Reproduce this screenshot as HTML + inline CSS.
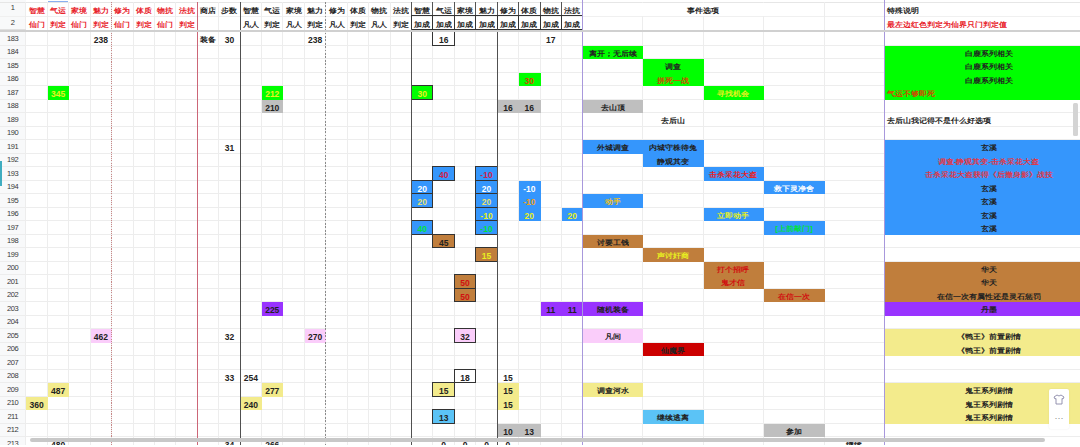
<!DOCTYPE html>
<html><head><meta charset="utf-8"><style>
html,body{margin:0;padding:0;background:#fff;width:1080px;height:447px;overflow:hidden;position:relative}
body div{position:absolute;box-sizing:border-box}
.cj{display:inline-block;transform:scaleY(0.88)}
.t{padding-top:1.5px;font-family:"Liberation Sans",sans-serif;font-size:8.5px;font-weight:bold;white-space:nowrap;overflow:visible;color:#222}
</style></head><body>
<div style="left:0.00px;top:0.00px;width:25.90px;height:447.00px;background:#f8f9fa"></div>
<div style="left:0.00px;top:31.00px;width:1080.00px;height:1.00px;background:#ededed"></div>
<div style="left:0.00px;top:45.00px;width:1080.00px;height:1.00px;background:#ededed"></div>
<div style="left:0.00px;top:58.00px;width:1080.00px;height:1.00px;background:#ededed"></div>
<div style="left:0.00px;top:72.00px;width:1080.00px;height:1.00px;background:#ededed"></div>
<div style="left:0.00px;top:85.00px;width:1080.00px;height:1.00px;background:#ededed"></div>
<div style="left:0.00px;top:99.00px;width:1080.00px;height:1.00px;background:#ededed"></div>
<div style="left:0.00px;top:112.00px;width:1080.00px;height:1.00px;background:#ededed"></div>
<div style="left:0.00px;top:126.00px;width:1080.00px;height:1.00px;background:#ededed"></div>
<div style="left:0.00px;top:139.00px;width:1080.00px;height:1.00px;background:#ededed"></div>
<div style="left:0.00px;top:153.00px;width:1080.00px;height:1.00px;background:#ededed"></div>
<div style="left:0.00px;top:166.00px;width:1080.00px;height:1.00px;background:#ededed"></div>
<div style="left:0.00px;top:180.00px;width:1080.00px;height:1.00px;background:#ededed"></div>
<div style="left:0.00px;top:193.00px;width:1080.00px;height:1.00px;background:#ededed"></div>
<div style="left:0.00px;top:207.00px;width:1080.00px;height:1.00px;background:#ededed"></div>
<div style="left:0.00px;top:220.00px;width:1080.00px;height:1.00px;background:#ededed"></div>
<div style="left:0.00px;top:234.00px;width:1080.00px;height:1.00px;background:#ededed"></div>
<div style="left:0.00px;top:247.00px;width:1080.00px;height:1.00px;background:#ededed"></div>
<div style="left:0.00px;top:261.00px;width:1080.00px;height:1.00px;background:#ededed"></div>
<div style="left:0.00px;top:274.00px;width:1080.00px;height:1.00px;background:#ededed"></div>
<div style="left:0.00px;top:288.00px;width:1080.00px;height:1.00px;background:#ededed"></div>
<div style="left:0.00px;top:301.00px;width:1080.00px;height:1.00px;background:#ededed"></div>
<div style="left:0.00px;top:315.00px;width:1080.00px;height:1.00px;background:#ededed"></div>
<div style="left:0.00px;top:328.00px;width:1080.00px;height:1.00px;background:#ededed"></div>
<div style="left:0.00px;top:342.00px;width:1080.00px;height:1.00px;background:#ededed"></div>
<div style="left:0.00px;top:355.00px;width:1080.00px;height:1.00px;background:#ededed"></div>
<div style="left:0.00px;top:369.00px;width:1080.00px;height:1.00px;background:#ededed"></div>
<div style="left:0.00px;top:382.00px;width:1080.00px;height:1.00px;background:#ededed"></div>
<div style="left:0.00px;top:396.00px;width:1080.00px;height:1.00px;background:#ededed"></div>
<div style="left:0.00px;top:409.00px;width:1080.00px;height:1.00px;background:#ededed"></div>
<div style="left:0.00px;top:423.00px;width:1080.00px;height:1.00px;background:#ededed"></div>
<div style="left:0.00px;top:436.00px;width:1080.00px;height:1.00px;background:#ededed"></div>
<div style="left:0.00px;top:450.00px;width:1080.00px;height:1.00px;background:#ededed"></div>
<div style="left:0.00px;top:16.00px;width:1080.00px;height:1.00px;background:#f0f0f0"></div>
<div style="left:0.00px;top:2.00px;width:1080.00px;height:1.00px;background:#e6e6e6"></div>
<div style="left:25.00px;top:2.00px;width:1.00px;height:447.00px;background:#ededed"></div>
<div style="left:47.00px;top:2.00px;width:1.00px;height:447.00px;background:#ededed"></div>
<div style="left:68.00px;top:2.00px;width:1.00px;height:447.00px;background:#ededed"></div>
<div style="left:90.00px;top:2.00px;width:1.00px;height:447.00px;background:#ededed"></div>
<div style="left:111.00px;top:2.00px;width:1.00px;height:447.00px;background:#ededed"></div>
<div style="left:133.00px;top:2.00px;width:1.00px;height:447.00px;background:#ededed"></div>
<div style="left:154.00px;top:2.00px;width:1.00px;height:447.00px;background:#ededed"></div>
<div style="left:175.00px;top:2.00px;width:1.00px;height:447.00px;background:#ededed"></div>
<div style="left:197.00px;top:2.00px;width:1.00px;height:447.00px;background:#ededed"></div>
<div style="left:218.00px;top:2.00px;width:1.00px;height:447.00px;background:#ededed"></div>
<div style="left:240.00px;top:2.00px;width:1.00px;height:447.00px;background:#ededed"></div>
<div style="left:261.00px;top:2.00px;width:1.00px;height:447.00px;background:#ededed"></div>
<div style="left:282.00px;top:2.00px;width:1.00px;height:447.00px;background:#ededed"></div>
<div style="left:304.00px;top:2.00px;width:1.00px;height:447.00px;background:#ededed"></div>
<div style="left:325.00px;top:2.00px;width:1.00px;height:447.00px;background:#ededed"></div>
<div style="left:347.00px;top:2.00px;width:1.00px;height:447.00px;background:#ededed"></div>
<div style="left:368.00px;top:2.00px;width:1.00px;height:447.00px;background:#ededed"></div>
<div style="left:390.00px;top:2.00px;width:1.00px;height:447.00px;background:#ededed"></div>
<div style="left:411.00px;top:2.00px;width:1.00px;height:447.00px;background:#ededed"></div>
<div style="left:432.00px;top:2.00px;width:1.00px;height:447.00px;background:#ededed"></div>
<div style="left:454.00px;top:2.00px;width:1.00px;height:447.00px;background:#ededed"></div>
<div style="left:475.00px;top:2.00px;width:1.00px;height:447.00px;background:#ededed"></div>
<div style="left:497.00px;top:2.00px;width:1.00px;height:447.00px;background:#ededed"></div>
<div style="left:518.00px;top:2.00px;width:1.00px;height:447.00px;background:#ededed"></div>
<div style="left:540.00px;top:2.00px;width:1.00px;height:447.00px;background:#ededed"></div>
<div style="left:561.00px;top:2.00px;width:1.00px;height:447.00px;background:#ededed"></div>
<div style="left:582.00px;top:2.00px;width:1.00px;height:447.00px;background:#ededed"></div>
<div style="left:642.00px;top:2.00px;width:1.00px;height:447.00px;background:#ededed"></div>
<div style="left:703.00px;top:2.00px;width:1.00px;height:447.00px;background:#ededed"></div>
<div style="left:763.00px;top:2.00px;width:1.00px;height:447.00px;background:#ededed"></div>
<div style="left:824.00px;top:2.00px;width:1.00px;height:447.00px;background:#ededed"></div>
<div style="left:583.00px;top:3.00px;width:239.60px;height:12.80px;background:#fff"></div>
<div class="t" style="left:25.90px;top:2.20px;width:21.42px;height:13.60px;line-height:13.60px;color:#e8222a;text-align:center;padding-top:1.5px;font-size:8.2px;"><span class="cj">智慧</span></div>
<div class="t" style="left:25.90px;top:15.80px;width:21.42px;height:13.60px;line-height:13.60px;color:#e8222a;text-align:center;padding-top:2.3px;font-size:8.2px;"><span class="cj">仙门</span></div>
<div class="t" style="left:47.32px;top:2.20px;width:21.42px;height:13.60px;line-height:13.60px;color:#e8222a;text-align:center;padding-top:1.5px;font-size:8.2px;"><span class="cj">气运</span></div>
<div class="t" style="left:47.32px;top:15.80px;width:21.42px;height:13.60px;line-height:13.60px;color:#e8222a;text-align:center;padding-top:2.3px;font-size:8.2px;"><span class="cj">判定</span></div>
<div class="t" style="left:68.75px;top:2.20px;width:21.42px;height:13.60px;line-height:13.60px;color:#e8222a;text-align:center;padding-top:1.5px;font-size:8.2px;"><span class="cj">家境</span></div>
<div class="t" style="left:68.75px;top:15.80px;width:21.42px;height:13.60px;line-height:13.60px;color:#e8222a;text-align:center;padding-top:2.3px;font-size:8.2px;"><span class="cj">仙门</span></div>
<div class="t" style="left:90.17px;top:2.20px;width:21.42px;height:13.60px;line-height:13.60px;color:#e8222a;text-align:center;padding-top:1.5px;font-size:8.2px;"><span class="cj">魅力</span></div>
<div class="t" style="left:90.17px;top:15.80px;width:21.42px;height:13.60px;line-height:13.60px;color:#e8222a;text-align:center;padding-top:2.3px;font-size:8.2px;"><span class="cj">判定</span></div>
<div class="t" style="left:111.60px;top:2.20px;width:21.42px;height:13.60px;line-height:13.60px;color:#e8222a;text-align:center;padding-top:1.5px;font-size:8.2px;"><span class="cj">修为</span></div>
<div class="t" style="left:111.60px;top:15.80px;width:21.42px;height:13.60px;line-height:13.60px;color:#e8222a;text-align:center;padding-top:2.3px;font-size:8.2px;"><span class="cj">仙门</span></div>
<div class="t" style="left:133.02px;top:2.20px;width:21.42px;height:13.60px;line-height:13.60px;color:#e8222a;text-align:center;padding-top:1.5px;font-size:8.2px;"><span class="cj">体质</span></div>
<div class="t" style="left:133.02px;top:15.80px;width:21.42px;height:13.60px;line-height:13.60px;color:#e8222a;text-align:center;padding-top:2.3px;font-size:8.2px;"><span class="cj">判定</span></div>
<div class="t" style="left:154.44px;top:2.20px;width:21.42px;height:13.60px;line-height:13.60px;color:#e8222a;text-align:center;padding-top:1.5px;font-size:8.2px;"><span class="cj">物抗</span></div>
<div class="t" style="left:154.44px;top:15.80px;width:21.42px;height:13.60px;line-height:13.60px;color:#e8222a;text-align:center;padding-top:2.3px;font-size:8.2px;"><span class="cj">仙门</span></div>
<div class="t" style="left:175.87px;top:2.20px;width:21.42px;height:13.60px;line-height:13.60px;color:#e8222a;text-align:center;padding-top:1.5px;font-size:8.2px;"><span class="cj">法抗</span></div>
<div class="t" style="left:175.87px;top:15.80px;width:21.42px;height:13.60px;line-height:13.60px;color:#e8222a;text-align:center;padding-top:2.3px;font-size:8.2px;"><span class="cj">判定</span></div>
<div class="t" style="left:197.29px;top:2.20px;width:21.42px;height:13.60px;line-height:13.60px;color:#222;text-align:center;padding-top:1.5px;font-size:8.2px;"><span class="cj">商店</span></div>
<div class="t" style="left:218.72px;top:2.20px;width:21.42px;height:13.60px;line-height:13.60px;color:#222;text-align:center;padding-top:1.5px;font-size:8.2px;"><span class="cj">步数</span></div>
<div class="t" style="left:240.14px;top:2.20px;width:21.42px;height:13.60px;line-height:13.60px;color:#222;text-align:center;padding-top:1.5px;font-size:8.2px;"><span class="cj">智慧</span></div>
<div class="t" style="left:240.14px;top:15.80px;width:21.42px;height:13.60px;line-height:13.60px;color:#222;text-align:center;padding-top:2.3px;font-size:8.2px;"><span class="cj">凡人</span></div>
<div class="t" style="left:261.56px;top:2.20px;width:21.42px;height:13.60px;line-height:13.60px;color:#222;text-align:center;padding-top:1.5px;font-size:8.2px;"><span class="cj">气运</span></div>
<div class="t" style="left:261.56px;top:15.80px;width:21.42px;height:13.60px;line-height:13.60px;color:#222;text-align:center;padding-top:2.3px;font-size:8.2px;"><span class="cj">判定</span></div>
<div class="t" style="left:282.99px;top:2.20px;width:21.42px;height:13.60px;line-height:13.60px;color:#222;text-align:center;padding-top:1.5px;font-size:8.2px;"><span class="cj">家境</span></div>
<div class="t" style="left:282.99px;top:15.80px;width:21.42px;height:13.60px;line-height:13.60px;color:#222;text-align:center;padding-top:2.3px;font-size:8.2px;"><span class="cj">凡人</span></div>
<div class="t" style="left:304.41px;top:2.20px;width:21.42px;height:13.60px;line-height:13.60px;color:#222;text-align:center;padding-top:1.5px;font-size:8.2px;"><span class="cj">魅力</span></div>
<div class="t" style="left:304.41px;top:15.80px;width:21.42px;height:13.60px;line-height:13.60px;color:#222;text-align:center;padding-top:2.3px;font-size:8.2px;"><span class="cj">判定</span></div>
<div class="t" style="left:325.84px;top:2.20px;width:21.42px;height:13.60px;line-height:13.60px;color:#222;text-align:center;padding-top:1.5px;font-size:8.2px;"><span class="cj">修为</span></div>
<div class="t" style="left:325.84px;top:15.80px;width:21.42px;height:13.60px;line-height:13.60px;color:#222;text-align:center;padding-top:2.3px;font-size:8.2px;"><span class="cj">凡人</span></div>
<div class="t" style="left:347.26px;top:2.20px;width:21.42px;height:13.60px;line-height:13.60px;color:#222;text-align:center;padding-top:1.5px;font-size:8.2px;"><span class="cj">体质</span></div>
<div class="t" style="left:347.26px;top:15.80px;width:21.42px;height:13.60px;line-height:13.60px;color:#222;text-align:center;padding-top:2.3px;font-size:8.2px;"><span class="cj">判定</span></div>
<div class="t" style="left:368.68px;top:2.20px;width:21.42px;height:13.60px;line-height:13.60px;color:#222;text-align:center;padding-top:1.5px;font-size:8.2px;"><span class="cj">物抗</span></div>
<div class="t" style="left:368.68px;top:15.80px;width:21.42px;height:13.60px;line-height:13.60px;color:#222;text-align:center;padding-top:2.3px;font-size:8.2px;"><span class="cj">凡人</span></div>
<div class="t" style="left:390.11px;top:2.20px;width:21.42px;height:13.60px;line-height:13.60px;color:#222;text-align:center;padding-top:1.5px;font-size:8.2px;"><span class="cj">法抗</span></div>
<div class="t" style="left:390.11px;top:15.80px;width:21.42px;height:13.60px;line-height:13.60px;color:#222;text-align:center;padding-top:2.3px;font-size:8.2px;"><span class="cj">判定</span></div>
<div style="left:411.00px;top:2.00px;width:22.00px;height:14.00px;border:1px solid #555;border-top:none;"></div>
<div class="t" style="left:411.53px;top:2.20px;width:21.42px;height:13.60px;line-height:13.60px;color:#222;text-align:center;padding-top:1.5px;font-size:8.2px;"><span class="cj">智慧</span></div>
<div style="left:411.00px;top:15.00px;width:22.00px;height:15.00px;box-shadow: inset 0 0 0 1px #333;"></div>
<div class="t" style="left:411.53px;top:15.80px;width:21.42px;height:13.60px;line-height:13.60px;color:#222;text-align:center;padding-top:2.3px;font-size:8.2px;"><span class="cj">加成</span></div>
<div style="left:432.00px;top:2.00px;width:23.00px;height:14.00px;border:1px solid #555;border-top:none;"></div>
<div class="t" style="left:432.96px;top:2.20px;width:21.42px;height:13.60px;line-height:13.60px;color:#222;text-align:center;padding-top:1.5px;font-size:8.2px;"><span class="cj">气运</span></div>
<div style="left:432.00px;top:15.00px;width:23.00px;height:15.00px;box-shadow: inset 0 0 0 1px #333;"></div>
<div class="t" style="left:432.96px;top:15.80px;width:21.42px;height:13.60px;line-height:13.60px;color:#222;text-align:center;padding-top:2.3px;font-size:8.2px;"><span class="cj">加成</span></div>
<div style="left:454.00px;top:2.00px;width:22.00px;height:14.00px;border:1px solid #555;border-top:none;"></div>
<div class="t" style="left:454.38px;top:2.20px;width:21.42px;height:13.60px;line-height:13.60px;color:#222;text-align:center;padding-top:1.5px;font-size:8.2px;"><span class="cj">家境</span></div>
<div style="left:454.00px;top:15.00px;width:22.00px;height:15.00px;box-shadow: inset 0 0 0 1px #333;"></div>
<div class="t" style="left:454.38px;top:15.80px;width:21.42px;height:13.60px;line-height:13.60px;color:#222;text-align:center;padding-top:2.3px;font-size:8.2px;"><span class="cj">加成</span></div>
<div style="left:475.00px;top:2.00px;width:23.00px;height:14.00px;border:1px solid #555;border-top:none;"></div>
<div class="t" style="left:475.80px;top:2.20px;width:21.42px;height:13.60px;line-height:13.60px;color:#222;text-align:center;padding-top:1.5px;font-size:8.2px;"><span class="cj">魅力</span></div>
<div style="left:475.00px;top:15.00px;width:23.00px;height:15.00px;box-shadow: inset 0 0 0 1px #333;"></div>
<div class="t" style="left:475.80px;top:15.80px;width:21.42px;height:13.60px;line-height:13.60px;color:#222;text-align:center;padding-top:2.3px;font-size:8.2px;"><span class="cj">加成</span></div>
<div style="left:497.00px;top:2.00px;width:22.00px;height:14.00px;border:1px solid #555;border-top:none;"></div>
<div class="t" style="left:497.23px;top:2.20px;width:21.42px;height:13.60px;line-height:13.60px;color:#222;text-align:center;padding-top:1.5px;font-size:8.2px;"><span class="cj">修为</span></div>
<div style="left:497.00px;top:15.00px;width:22.00px;height:15.00px;box-shadow: inset 0 0 0 1px #333;"></div>
<div class="t" style="left:497.23px;top:15.80px;width:21.42px;height:13.60px;line-height:13.60px;color:#222;text-align:center;padding-top:2.3px;font-size:8.2px;"><span class="cj">加成</span></div>
<div style="left:518.00px;top:2.00px;width:23.00px;height:14.00px;border:1px solid #555;border-top:none;"></div>
<div class="t" style="left:518.65px;top:2.20px;width:21.42px;height:13.60px;line-height:13.60px;color:#222;text-align:center;padding-top:1.5px;font-size:8.2px;"><span class="cj">体质</span></div>
<div style="left:518.00px;top:15.00px;width:23.00px;height:15.00px;box-shadow: inset 0 0 0 1px #333;"></div>
<div class="t" style="left:518.65px;top:15.80px;width:21.42px;height:13.60px;line-height:13.60px;color:#222;text-align:center;padding-top:2.3px;font-size:8.2px;"><span class="cj">加成</span></div>
<div style="left:540.00px;top:2.00px;width:22.00px;height:14.00px;border:1px solid #555;border-top:none;"></div>
<div class="t" style="left:540.08px;top:2.20px;width:21.42px;height:13.60px;line-height:13.60px;color:#222;text-align:center;padding-top:1.5px;font-size:8.2px;"><span class="cj">物抗</span></div>
<div style="left:540.00px;top:15.00px;width:22.00px;height:15.00px;box-shadow: inset 0 0 0 1px #333;"></div>
<div class="t" style="left:540.08px;top:15.80px;width:21.42px;height:13.60px;line-height:13.60px;color:#222;text-align:center;padding-top:2.3px;font-size:8.2px;"><span class="cj">加成</span></div>
<div style="left:561.00px;top:2.00px;width:22.00px;height:14.00px;border:1px solid #555;border-top:none;"></div>
<div class="t" style="left:561.50px;top:2.20px;width:21.42px;height:13.60px;line-height:13.60px;color:#222;text-align:center;padding-top:1.5px;font-size:8.2px;"><span class="cj">法抗</span></div>
<div style="left:561.00px;top:15.00px;width:22.00px;height:15.00px;box-shadow: inset 0 0 0 1px #333;"></div>
<div class="t" style="left:561.50px;top:15.80px;width:21.42px;height:13.60px;line-height:13.60px;color:#222;text-align:center;padding-top:2.3px;font-size:8.2px;"><span class="cj">加成</span></div>
<div class="t" style="left:582.50px;top:2.20px;width:241.60px;height:13.60px;line-height:13.60px;color:#222;text-align:center;padding-top:1.5px;font-size:8.2px;"><span class="cj">事件选项</span></div>
<div class="t" style="left:884.50px;top:2.20px;width:208.00px;height:13.60px;line-height:13.60px;color:#222;text-align:left;padding-left:2px;padding-top:1.5px;font-size:8.2px;"><span class="cj">特殊说明</span></div>
<div class="t" style="left:884.50px;top:15.80px;width:208.00px;height:13.60px;line-height:13.60px;color:#e8222a;text-align:left;padding-left:2px;padding-top:2.3px;font-size:8.2px;"><span class="cj">最左边红色判定为仙界只门判定值</span></div>
<div class="t" style="left:90.17px;top:31.74px;width:21.42px;height:13.50px;line-height:13.50px;color:#222;text-align:center;padding-top:2.3px;">238</div>
<div class="t" style="left:197.29px;top:31.74px;width:21.42px;height:13.50px;line-height:13.50px;color:#222;text-align:center;font-size:8.2px;"><span class="cj">装备</span></div>
<div class="t" style="left:218.72px;top:31.74px;width:21.42px;height:13.50px;line-height:13.50px;color:#222;text-align:center;padding-top:2.3px;">30</div>
<div class="t" style="left:304.41px;top:31.74px;width:21.42px;height:13.50px;line-height:13.50px;color:#222;text-align:center;padding-top:2.3px;">238</div>
<div style="left:432.00px;top:31.00px;width:23.00px;height:15.00px;box-shadow: inset 0 0 0 1px #333;"></div>
<div class="t" style="left:432.96px;top:31.74px;width:21.42px;height:13.50px;line-height:13.50px;color:#222;text-align:center;padding-top:2.3px;">16</div>
<div class="t" style="left:540.08px;top:31.74px;width:21.42px;height:13.50px;line-height:13.50px;color:#222;text-align:center;padding-top:2.3px;">17</div>
<div style="left:583.00px;top:46.00px;width:60.00px;height:13.00px;background:#00ff00;"></div>
<div class="t" style="left:582.50px;top:45.24px;width:60.40px;height:13.50px;line-height:13.50px;color:#222;text-align:center;font-size:8.2px;"><span class="cj">离开；无后续</span></div>
<div style="left:885.00px;top:46.00px;width:208.00px;height:13.00px;background:#00ff00;"></div>
<div class="t" style="left:884.50px;top:45.24px;width:208.00px;height:13.50px;line-height:13.50px;color:#222;text-align:center;font-size:8.2px;"><span class="cj">白鹿系列相关</span></div>
<div style="left:643.00px;top:59.00px;width:61.00px;height:14.00px;background:#00ff00;"></div>
<div class="t" style="left:642.90px;top:58.74px;width:60.40px;height:13.50px;line-height:13.50px;color:#222;text-align:center;font-size:8.2px;"><span class="cj">调查</span></div>
<div style="left:885.00px;top:59.00px;width:208.00px;height:14.00px;background:#00ff00;"></div>
<div class="t" style="left:884.50px;top:58.74px;width:208.00px;height:13.50px;line-height:13.50px;color:#222;text-align:center;font-size:8.2px;"><span class="cj">白鹿系列相关</span></div>
<div style="left:519.00px;top:73.00px;width:22.00px;height:13.00px;background:#00ff00;"></div>
<div class="t" style="left:518.65px;top:72.24px;width:21.42px;height:13.50px;line-height:13.50px;color:#d04800;text-align:center;padding-top:2.3px;">30</div>
<div style="left:643.00px;top:73.00px;width:61.00px;height:13.00px;background:#00ff00;"></div>
<div class="t" style="left:642.90px;top:72.24px;width:60.40px;height:13.50px;line-height:13.50px;color:#d04800;text-align:center;font-size:8.2px;"><span class="cj">拼死一战</span></div>
<div style="left:885.00px;top:73.00px;width:208.00px;height:13.00px;background:#00ff00;"></div>
<div class="t" style="left:884.50px;top:72.24px;width:208.00px;height:13.50px;line-height:13.50px;color:#222;text-align:center;font-size:8.2px;"><span class="cj">白鹿系列相关</span></div>
<div style="left:48.00px;top:86.00px;width:21.00px;height:14.00px;background:#00ff00;"></div>
<div class="t" style="left:47.32px;top:85.74px;width:21.42px;height:13.50px;line-height:13.50px;color:#e8f020;text-align:center;padding-top:2.3px;">345</div>
<div style="left:262.00px;top:86.00px;width:21.00px;height:14.00px;background:#00ff00;"></div>
<div class="t" style="left:261.56px;top:85.74px;width:21.42px;height:13.50px;line-height:13.50px;color:#e8f020;text-align:center;padding-top:2.3px;">212</div>
<div style="left:411.00px;top:85.00px;width:22.00px;height:15.00px;background:#00ff00;box-shadow: inset 0 0 0 1px #333;"></div>
<div class="t" style="left:411.53px;top:85.74px;width:21.42px;height:13.50px;line-height:13.50px;color:#e8f020;text-align:center;padding-top:2.3px;">30</div>
<div style="left:704.00px;top:86.00px;width:60.00px;height:14.00px;background:#00ff00;"></div>
<div class="t" style="left:703.30px;top:85.74px;width:60.40px;height:13.50px;line-height:13.50px;color:#e8f020;text-align:center;font-size:8.2px;"><span class="cj">寻找机会</span></div>
<div style="left:885.00px;top:86.00px;width:208.00px;height:14.00px;background:#00ff00;"></div>
<div class="t" style="left:884.50px;top:85.74px;width:208.00px;height:13.50px;line-height:13.50px;color:#d04800;text-align:left;padding-left:2px;font-size:8.2px;"><span class="cj">气运不够即死</span></div>
<div style="left:262.00px;top:100.00px;width:21.00px;height:13.00px;background:#bfbfbf;"></div>
<div class="t" style="left:261.56px;top:99.24px;width:21.42px;height:13.50px;line-height:13.50px;color:#222;text-align:center;padding-top:2.3px;">210</div>
<div style="left:498.00px;top:100.00px;width:21.00px;height:13.00px;background:#bfbfbf;"></div>
<div class="t" style="left:497.23px;top:99.24px;width:21.42px;height:13.50px;line-height:13.50px;color:#222;text-align:center;padding-top:2.3px;">16</div>
<div style="left:519.00px;top:100.00px;width:22.00px;height:13.00px;background:#bfbfbf;"></div>
<div class="t" style="left:518.65px;top:99.24px;width:21.42px;height:13.50px;line-height:13.50px;color:#222;text-align:center;padding-top:2.3px;">16</div>
<div style="left:583.00px;top:100.00px;width:60.00px;height:13.00px;background:#bfbfbf;"></div>
<div class="t" style="left:582.50px;top:99.24px;width:60.40px;height:13.50px;line-height:13.50px;color:#222;text-align:center;font-size:8.2px;"><span class="cj">去山顶</span></div>
<div class="t" style="left:642.90px;top:112.74px;width:60.40px;height:13.50px;line-height:13.50px;color:#222;text-align:center;font-size:8.2px;"><span class="cj">去后山</span></div>
<div class="t" style="left:884.50px;top:112.74px;width:208.00px;height:13.50px;line-height:13.50px;color:#222;text-align:left;padding-left:2px;font-size:8.2px;"><span class="cj">去后山我记得不是什么好选项</span></div>
<div class="t" style="left:218.72px;top:139.74px;width:21.42px;height:13.50px;line-height:13.50px;color:#222;text-align:center;padding-top:2.3px;">31</div>
<div style="left:583.00px;top:140.00px;width:60.00px;height:14.00px;background:#3596fc;"></div>
<div class="t" style="left:582.50px;top:139.74px;width:60.40px;height:13.50px;line-height:13.50px;color:#222;text-align:center;font-size:8.2px;"><span class="cj">外城调查</span></div>
<div style="left:643.00px;top:140.00px;width:61.00px;height:14.00px;background:#3596fc;"></div>
<div class="t" style="left:642.90px;top:139.74px;width:60.40px;height:13.50px;line-height:13.50px;color:#222;text-align:center;font-size:8.2px;"><span class="cj">内城守株待兔</span></div>
<div style="left:885.00px;top:140.00px;width:208.00px;height:14.00px;background:#3596fc;"></div>
<div class="t" style="left:884.50px;top:139.74px;width:208.00px;height:13.50px;line-height:13.50px;color:#222;text-align:center;font-size:8.2px;"><span class="cj">玄溪</span></div>
<div style="left:643.00px;top:154.00px;width:61.00px;height:13.00px;background:#3596fc;"></div>
<div class="t" style="left:642.90px;top:153.24px;width:60.40px;height:13.50px;line-height:13.50px;color:#222;text-align:center;font-size:8.2px;"><span class="cj">静观其变</span></div>
<div style="left:885.00px;top:154.00px;width:208.00px;height:13.00px;background:#3596fc;"></div>
<div class="t" style="left:884.50px;top:153.24px;width:208.00px;height:13.50px;line-height:13.50px;color:#e03848;text-align:center;font-size:7.8px;"><span class="cj">调查-静观其变-击杀采花大盗</span></div>
<div style="left:432.00px;top:166.00px;width:23.00px;height:15.00px;background:#3596fc;box-shadow: inset 0 0 0 1px #333;"></div>
<div class="t" style="left:432.96px;top:166.74px;width:21.42px;height:13.50px;line-height:13.50px;color:#d0204a;text-align:center;padding-top:2.3px;">40</div>
<div style="left:475.00px;top:166.00px;width:23.00px;height:15.00px;background:#3596fc;box-shadow: inset 0 0 0 1px #333;"></div>
<div class="t" style="left:475.80px;top:166.74px;width:21.42px;height:13.50px;line-height:13.50px;color:#d0204a;text-align:center;padding-top:2.3px;">-10</div>
<div style="left:704.00px;top:167.00px;width:60.00px;height:14.00px;background:#3596fc;"></div>
<div class="t" style="left:703.30px;top:166.74px;width:60.40px;height:13.50px;line-height:13.50px;color:#e8222a;text-align:center;font-size:8.2px;"><span class="cj">击杀采花大盗</span></div>
<div style="left:885.00px;top:167.00px;width:208.00px;height:14.00px;background:#3596fc;"></div>
<div class="t" style="left:884.50px;top:166.74px;width:208.00px;height:13.50px;line-height:13.50px;color:#e03848;text-align:center;font-size:7.6px;"><span class="cj">击杀采花大盗获得《后撤身影》战技</span></div>
<div style="left:411.00px;top:180.00px;width:22.00px;height:14.00px;background:#3596fc;box-shadow: inset 0 0 0 1px #333;"></div>
<div class="t" style="left:411.53px;top:180.24px;width:21.42px;height:13.50px;line-height:13.50px;color:#ffffff;text-align:center;padding-top:2.3px;">20</div>
<div style="left:475.00px;top:180.00px;width:23.00px;height:14.00px;background:#3596fc;box-shadow: inset 0 0 0 1px #333;"></div>
<div class="t" style="left:475.80px;top:180.24px;width:21.42px;height:13.50px;line-height:13.50px;color:#ffffff;text-align:center;padding-top:2.3px;">20</div>
<div style="left:519.00px;top:181.00px;width:22.00px;height:13.00px;background:#3596fc;"></div>
<div class="t" style="left:518.65px;top:180.24px;width:21.42px;height:13.50px;line-height:13.50px;color:#ffffff;text-align:center;padding-top:2.3px;">-10</div>
<div style="left:764.00px;top:181.00px;width:61.00px;height:13.00px;background:#3596fc;"></div>
<div class="t" style="left:763.70px;top:180.24px;width:60.40px;height:13.50px;line-height:13.50px;color:#ffffff;text-align:center;font-size:8.2px;"><span class="cj">救下灵净舍</span></div>
<div style="left:885.00px;top:181.00px;width:208.00px;height:13.00px;background:#3596fc;"></div>
<div class="t" style="left:884.50px;top:180.24px;width:208.00px;height:13.50px;line-height:13.50px;color:#222;text-align:center;font-size:8.2px;"><span class="cj">玄溪</span></div>
<div style="left:411.00px;top:193.00px;width:22.00px;height:15.00px;background:#3596fc;box-shadow: inset 0 0 0 1px #333;"></div>
<div class="t" style="left:411.53px;top:193.74px;width:21.42px;height:13.50px;line-height:13.50px;color:#e8e070;text-align:center;padding-top:2.3px;">20</div>
<div style="left:475.00px;top:193.00px;width:23.00px;height:15.00px;background:#3596fc;box-shadow: inset 0 0 0 1px #333;"></div>
<div class="t" style="left:475.80px;top:193.74px;width:21.42px;height:13.50px;line-height:13.50px;color:#e8e070;text-align:center;padding-top:2.3px;">20</div>
<div style="left:519.00px;top:194.00px;width:22.00px;height:14.00px;background:#3596fc;"></div>
<div class="t" style="left:518.65px;top:193.74px;width:21.42px;height:13.50px;line-height:13.50px;color:#f0a020;text-align:center;padding-top:2.3px;">-10</div>
<div style="left:583.00px;top:194.00px;width:60.00px;height:14.00px;background:#3596fc;"></div>
<div class="t" style="left:582.50px;top:193.74px;width:60.40px;height:13.50px;line-height:13.50px;color:#f0c020;text-align:center;font-size:8.2px;"><span class="cj">动手</span></div>
<div style="left:885.00px;top:194.00px;width:208.00px;height:14.00px;background:#3596fc;"></div>
<div class="t" style="left:884.50px;top:193.74px;width:208.00px;height:13.50px;line-height:13.50px;color:#222;text-align:center;font-size:8.2px;"><span class="cj">玄溪</span></div>
<div style="left:475.00px;top:207.00px;width:23.00px;height:14.00px;background:#3596fc;box-shadow: inset 0 0 0 1px #333;"></div>
<div class="t" style="left:475.80px;top:207.24px;width:21.42px;height:13.50px;line-height:13.50px;color:#e8f020;text-align:center;padding-top:2.3px;">-10</div>
<div style="left:519.00px;top:208.00px;width:22.00px;height:13.00px;background:#3596fc;"></div>
<div class="t" style="left:518.65px;top:207.24px;width:21.42px;height:13.50px;line-height:13.50px;color:#e8f020;text-align:center;padding-top:2.3px;">20</div>
<div style="left:562.00px;top:208.00px;width:21.00px;height:13.00px;background:#3596fc;"></div>
<div class="t" style="left:561.50px;top:207.24px;width:21.42px;height:13.50px;line-height:13.50px;color:#e8f020;text-align:center;padding-top:2.3px;">20</div>
<div style="left:704.00px;top:208.00px;width:60.00px;height:13.00px;background:#3596fc;"></div>
<div class="t" style="left:703.30px;top:207.24px;width:60.40px;height:13.50px;line-height:13.50px;color:#e8f020;text-align:center;font-size:8.2px;"><span class="cj">立即动手</span></div>
<div style="left:885.00px;top:208.00px;width:208.00px;height:13.00px;background:#3596fc;"></div>
<div class="t" style="left:884.50px;top:207.24px;width:208.00px;height:13.50px;line-height:13.50px;color:#222;text-align:center;font-size:8.2px;"><span class="cj">玄溪</span></div>
<div style="left:411.00px;top:220.00px;width:22.00px;height:15.00px;background:#3596fc;box-shadow: inset 0 0 0 1px #333;"></div>
<div class="t" style="left:411.53px;top:220.74px;width:21.42px;height:13.50px;line-height:13.50px;color:#00e040;text-align:center;padding-top:2.3px;">40</div>
<div style="left:475.00px;top:220.00px;width:23.00px;height:15.00px;background:#3596fc;box-shadow: inset 0 0 0 1px #333;"></div>
<div class="t" style="left:475.80px;top:220.74px;width:21.42px;height:13.50px;line-height:13.50px;color:#00e040;text-align:center;padding-top:2.3px;">-10</div>
<div style="left:764.00px;top:221.00px;width:61.00px;height:14.00px;background:#3596fc;"></div>
<div class="t" style="left:763.70px;top:220.74px;width:60.40px;height:13.50px;line-height:13.50px;color:#00e040;text-align:center;font-size:8.2px;"><span class="cj">[上前敲门]</span></div>
<div style="left:885.00px;top:221.00px;width:208.00px;height:14.00px;background:#3596fc;"></div>
<div class="t" style="left:884.50px;top:220.74px;width:208.00px;height:13.50px;line-height:13.50px;color:#222;text-align:center;font-size:8.2px;"><span class="cj">玄溪</span></div>
<div style="left:432.00px;top:234.00px;width:23.00px;height:14.00px;background:#c07e3c;box-shadow: inset 0 0 0 1px #333;"></div>
<div class="t" style="left:432.96px;top:234.24px;width:21.42px;height:13.50px;line-height:13.50px;color:#222;text-align:center;padding-top:2.3px;">45</div>
<div style="left:583.00px;top:235.00px;width:60.00px;height:13.00px;background:#c07e3c;"></div>
<div class="t" style="left:582.50px;top:234.24px;width:60.40px;height:13.50px;line-height:13.50px;color:#222;text-align:center;font-size:8.2px;"><span class="cj">讨要工钱</span></div>
<div style="left:475.00px;top:247.00px;width:23.00px;height:15.00px;background:#c07e3c;box-shadow: inset 0 0 0 1px #333;"></div>
<div class="t" style="left:475.80px;top:247.74px;width:21.42px;height:13.50px;line-height:13.50px;color:#e8f020;text-align:center;padding-top:2.3px;">15</div>
<div style="left:643.00px;top:248.00px;width:61.00px;height:14.00px;background:#c07e3c;"></div>
<div class="t" style="left:642.90px;top:247.74px;width:60.40px;height:13.50px;line-height:13.50px;color:#e8f020;text-align:center;font-size:8.2px;"><span class="cj">声讨奸商</span></div>
<div style="left:704.00px;top:262.00px;width:60.00px;height:13.00px;background:#c07e3c;"></div>
<div class="t" style="left:703.30px;top:261.24px;width:60.40px;height:13.50px;line-height:13.50px;color:#d01010;text-align:center;font-size:8.2px;"><span class="cj">打个招呼</span></div>
<div style="left:885.00px;top:262.00px;width:208.00px;height:13.00px;background:#c07e3c;"></div>
<div class="t" style="left:884.50px;top:261.24px;width:208.00px;height:13.50px;line-height:13.50px;color:#222;text-align:center;font-size:8.2px;"><span class="cj">华天</span></div>
<div style="left:454.00px;top:274.00px;width:22.00px;height:15.00px;background:#c07e3c;box-shadow: inset 0 0 0 1px #333;"></div>
<div class="t" style="left:454.38px;top:274.74px;width:21.42px;height:13.50px;line-height:13.50px;color:#d01010;text-align:center;padding-top:2.3px;">50</div>
<div style="left:704.00px;top:275.00px;width:60.00px;height:14.00px;background:#c07e3c;"></div>
<div class="t" style="left:703.30px;top:274.74px;width:60.40px;height:13.50px;line-height:13.50px;color:#d01010;text-align:center;font-size:8.2px;"><span class="cj">鬼才信</span></div>
<div style="left:885.00px;top:275.00px;width:208.00px;height:14.00px;background:#c07e3c;"></div>
<div class="t" style="left:884.50px;top:274.74px;width:208.00px;height:13.50px;line-height:13.50px;color:#222;text-align:center;font-size:8.2px;"><span class="cj">华天</span></div>
<div style="left:454.00px;top:288.00px;width:22.00px;height:14.00px;background:#c07e3c;box-shadow: inset 0 0 0 1px #333;"></div>
<div class="t" style="left:454.38px;top:288.24px;width:21.42px;height:13.50px;line-height:13.50px;color:#d01010;text-align:center;padding-top:2.3px;">50</div>
<div style="left:764.00px;top:289.00px;width:61.00px;height:13.00px;background:#c07e3c;"></div>
<div class="t" style="left:763.70px;top:288.24px;width:60.40px;height:13.50px;line-height:13.50px;color:#d01010;text-align:center;font-size:8.2px;"><span class="cj">在信一次</span></div>
<div style="left:885.00px;top:289.00px;width:208.00px;height:13.00px;background:#c07e3c;"></div>
<div class="t" style="left:884.50px;top:288.24px;width:208.00px;height:13.50px;line-height:13.50px;color:#222;text-align:center;font-size:8.2px;"><span class="cj">在信一次有属性还是灵石惩罚</span></div>
<div style="left:262.00px;top:302.00px;width:21.00px;height:14.00px;background:#9933ff;"></div>
<div class="t" style="left:261.56px;top:301.74px;width:21.42px;height:13.50px;line-height:13.50px;color:#222;text-align:center;padding-top:2.3px;">225</div>
<div style="left:541.00px;top:302.00px;width:21.00px;height:14.00px;background:#9933ff;"></div>
<div class="t" style="left:540.08px;top:301.74px;width:21.42px;height:13.50px;line-height:13.50px;color:#222;text-align:center;padding-top:2.3px;">11</div>
<div style="left:562.00px;top:302.00px;width:21.00px;height:14.00px;background:#9933ff;"></div>
<div class="t" style="left:561.50px;top:301.74px;width:21.42px;height:13.50px;line-height:13.50px;color:#222;text-align:center;padding-top:2.3px;">11</div>
<div style="left:583.00px;top:302.00px;width:60.00px;height:14.00px;background:#9933ff;"></div>
<div class="t" style="left:582.50px;top:301.74px;width:60.40px;height:13.50px;line-height:13.50px;color:#222;text-align:center;font-size:8.2px;"><span class="cj">随机装备</span></div>
<div style="left:885.00px;top:302.00px;width:208.00px;height:14.00px;background:#9933ff;"></div>
<div class="t" style="left:884.50px;top:301.74px;width:208.00px;height:13.50px;line-height:13.50px;color:#222;text-align:center;font-size:8.2px;"><span class="cj">丹墨</span></div>
<div style="left:91.00px;top:329.00px;width:21.00px;height:14.00px;background:#facdfa;"></div>
<div class="t" style="left:90.17px;top:328.74px;width:21.42px;height:13.50px;line-height:13.50px;color:#222;text-align:center;padding-top:2.3px;">462</div>
<div class="t" style="left:218.72px;top:328.74px;width:21.42px;height:13.50px;line-height:13.50px;color:#222;text-align:center;padding-top:2.3px;">32</div>
<div style="left:305.00px;top:329.00px;width:21.00px;height:14.00px;background:#facdfa;"></div>
<div class="t" style="left:304.41px;top:328.74px;width:21.42px;height:13.50px;line-height:13.50px;color:#222;text-align:center;padding-top:2.3px;">270</div>
<div style="left:454.00px;top:328.00px;width:22.00px;height:15.00px;background:#facdfa;box-shadow: inset 0 0 0 1px #333;"></div>
<div class="t" style="left:454.38px;top:328.74px;width:21.42px;height:13.50px;line-height:13.50px;color:#222;text-align:center;padding-top:2.3px;">32</div>
<div style="left:583.00px;top:329.00px;width:60.00px;height:14.00px;background:#facdfa;"></div>
<div class="t" style="left:582.50px;top:328.74px;width:60.40px;height:13.50px;line-height:13.50px;color:#222;text-align:center;font-size:8.2px;"><span class="cj">凡间</span></div>
<div style="left:885.00px;top:329.00px;width:208.00px;height:14.00px;background:#f3eb8c;"></div>
<div class="t" style="left:884.50px;top:328.74px;width:208.00px;height:13.50px;line-height:13.50px;color:#222;text-align:center;font-size:8.2px;"><span class="cj">《鸭王》前置剧情</span></div>
<div style="left:643.00px;top:343.00px;width:61.00px;height:13.00px;background:#cc0000;"></div>
<div class="t" style="left:642.90px;top:342.24px;width:60.40px;height:13.50px;line-height:13.50px;color:#222;text-align:center;font-size:8.2px;"><span class="cj">仙魔界</span></div>
<div style="left:885.00px;top:343.00px;width:208.00px;height:13.00px;background:#f3eb8c;"></div>
<div class="t" style="left:884.50px;top:342.24px;width:208.00px;height:13.50px;line-height:13.50px;color:#222;text-align:center;font-size:8.2px;"><span class="cj">《鸭王》前置剧情</span></div>
<div class="t" style="left:218.72px;top:369.24px;width:21.42px;height:13.50px;line-height:13.50px;color:#222;text-align:center;padding-top:2.3px;">33</div>
<div class="t" style="left:240.14px;top:369.24px;width:21.42px;height:13.50px;line-height:13.50px;color:#222;text-align:center;padding-top:2.3px;">254</div>
<div style="left:454.00px;top:369.00px;width:22.00px;height:14.00px;box-shadow: inset 0 0 0 1px #333;"></div>
<div class="t" style="left:454.38px;top:369.24px;width:21.42px;height:13.50px;line-height:13.50px;color:#222;text-align:center;padding-top:2.3px;">18</div>
<div class="t" style="left:497.23px;top:369.24px;width:21.42px;height:13.50px;line-height:13.50px;color:#222;text-align:center;padding-top:2.3px;">15</div>
<div style="left:48.00px;top:383.00px;width:21.00px;height:14.00px;background:#f3eb8c;"></div>
<div class="t" style="left:47.32px;top:382.74px;width:21.42px;height:13.50px;line-height:13.50px;color:#222;text-align:center;padding-top:2.3px;">487</div>
<div style="left:262.00px;top:383.00px;width:21.00px;height:14.00px;background:#f3eb8c;"></div>
<div class="t" style="left:261.56px;top:382.74px;width:21.42px;height:13.50px;line-height:13.50px;color:#222;text-align:center;padding-top:2.3px;">277</div>
<div style="left:432.00px;top:382.00px;width:23.00px;height:15.00px;background:#f3eb8c;box-shadow: inset 0 0 0 1px #333;"></div>
<div class="t" style="left:432.96px;top:382.74px;width:21.42px;height:13.50px;line-height:13.50px;color:#222;text-align:center;padding-top:2.3px;">15</div>
<div style="left:498.00px;top:383.00px;width:21.00px;height:14.00px;background:#f3eb8c;"></div>
<div class="t" style="left:497.23px;top:382.74px;width:21.42px;height:13.50px;line-height:13.50px;color:#222;text-align:center;padding-top:2.3px;">15</div>
<div style="left:583.00px;top:383.00px;width:60.00px;height:14.00px;background:#f3eb8c;"></div>
<div class="t" style="left:582.50px;top:382.74px;width:60.40px;height:13.50px;line-height:13.50px;color:#222;text-align:center;font-size:8.2px;"><span class="cj">调查河水</span></div>
<div style="left:885.00px;top:383.00px;width:208.00px;height:14.00px;background:#f3eb8c;"></div>
<div class="t" style="left:884.50px;top:382.74px;width:208.00px;height:13.50px;line-height:13.50px;color:#222;text-align:center;font-size:8.2px;"><span class="cj">鬼王系列剧情</span></div>
<div style="left:26.00px;top:397.00px;width:22.00px;height:13.00px;background:#f3eb8c;"></div>
<div class="t" style="left:25.90px;top:396.24px;width:21.42px;height:13.50px;line-height:13.50px;color:#222;text-align:center;padding-top:2.3px;">360</div>
<div style="left:241.00px;top:397.00px;width:21.00px;height:13.00px;background:#f3eb8c;"></div>
<div class="t" style="left:240.14px;top:396.24px;width:21.42px;height:13.50px;line-height:13.50px;color:#222;text-align:center;padding-top:2.3px;">240</div>
<div style="left:498.00px;top:397.00px;width:21.00px;height:13.00px;background:#f3eb8c;"></div>
<div class="t" style="left:497.23px;top:396.24px;width:21.42px;height:13.50px;line-height:13.50px;color:#222;text-align:center;padding-top:2.3px;">15</div>
<div style="left:885.00px;top:397.00px;width:208.00px;height:13.00px;background:#f3eb8c;"></div>
<div class="t" style="left:884.50px;top:396.24px;width:208.00px;height:13.50px;line-height:13.50px;color:#222;text-align:center;font-size:8.2px;"><span class="cj">鬼王系列剧情</span></div>
<div style="left:432.00px;top:409.00px;width:23.00px;height:15.00px;background:#5bc3f6;box-shadow: inset 0 0 0 1px #333;"></div>
<div class="t" style="left:432.96px;top:409.74px;width:21.42px;height:13.50px;line-height:13.50px;color:#222;text-align:center;padding-top:2.3px;">13</div>
<div style="left:643.00px;top:410.00px;width:61.00px;height:14.00px;background:#5bc3f6;"></div>
<div class="t" style="left:642.90px;top:409.74px;width:60.40px;height:13.50px;line-height:13.50px;color:#222;text-align:center;font-size:8.2px;"><span class="cj">继续逃离</span></div>
<div style="left:885.00px;top:410.00px;width:208.00px;height:14.00px;background:#f3eb8c;"></div>
<div class="t" style="left:884.50px;top:409.74px;width:208.00px;height:13.50px;line-height:13.50px;color:#222;text-align:center;font-size:8.2px;"><span class="cj">鬼王系列剧情</span></div>
<div style="left:498.00px;top:424.00px;width:21.00px;height:13.00px;background:#bfbfbf;"></div>
<div class="t" style="left:497.23px;top:423.24px;width:21.42px;height:13.50px;line-height:13.50px;color:#222;text-align:center;padding-top:2.3px;">10</div>
<div style="left:519.00px;top:424.00px;width:22.00px;height:13.00px;background:#bfbfbf;"></div>
<div class="t" style="left:518.65px;top:423.24px;width:21.42px;height:13.50px;line-height:13.50px;color:#222;text-align:center;padding-top:2.3px;">13</div>
<div style="left:764.00px;top:424.00px;width:61.00px;height:13.00px;background:#bfbfbf;"></div>
<div class="t" style="left:763.70px;top:423.24px;width:60.40px;height:13.50px;line-height:13.50px;color:#222;text-align:center;font-size:8.2px;"><span class="cj">参加</span></div>
<div class="t" style="left:47.32px;top:436.74px;width:21.42px;height:13.50px;line-height:13.50px;color:#222;text-align:center;padding-top:2.3px;">480</div>
<div class="t" style="left:218.72px;top:436.74px;width:21.42px;height:13.50px;line-height:13.50px;color:#222;text-align:center;padding-top:2.3px;">34</div>
<div class="t" style="left:261.56px;top:436.74px;width:21.42px;height:13.50px;line-height:13.50px;color:#222;text-align:center;padding-top:2.3px;">266</div>
<div class="t" style="left:432.96px;top:436.74px;width:21.42px;height:13.50px;line-height:13.50px;color:#222;text-align:center;padding-top:2.3px;">0</div>
<div class="t" style="left:454.38px;top:436.74px;width:21.42px;height:13.50px;line-height:13.50px;color:#222;text-align:center;padding-top:2.3px;">0</div>
<div class="t" style="left:475.80px;top:436.74px;width:21.42px;height:13.50px;line-height:13.50px;color:#222;text-align:center;padding-top:2.3px;">0</div>
<div class="t" style="left:497.23px;top:436.74px;width:21.42px;height:13.50px;line-height:13.50px;color:#222;text-align:center;padding-top:2.3px;">0</div>
<div class="t" style="left:824.10px;top:436.74px;width:60.40px;height:13.50px;line-height:13.50px;color:#222;text-align:center;font-size:8.2px;"><span class="cj">继续</span></div>
<div style="left:111px;top:2px;width:1px;height:445px;background:repeating-linear-gradient(to bottom,#c88888 0 1.1px,transparent 1.1px 2.2px)"></div>
<div style="left:197.00px;top:2.00px;width:1.00px;height:445.00px;background:#cc6677"></div>
<div style="left:240.00px;top:2.00px;width:1.00px;height:445.00px;background:#505050"></div>
<div style="left:325px;top:2px;width:1px;height:445px;background:repeating-linear-gradient(to bottom,#8a8a8a 0 1.7px,transparent 1.7px 3.4px)"></div>
<div style="left:411.00px;top:29.40px;width:1.00px;height:417.60px;background:#505050"></div>
<div style="left:497.00px;top:29.40px;width:1.00px;height:417.60px;background:#505050"></div>
<div style="left:582.00px;top:0.00px;width:1.00px;height:447.00px;background:#a898dc"></div>
<div style="left:884.00px;top:0.00px;width:1.00px;height:447.00px;background:#a898dc"></div>
<div class="t" style="left:0.00px;top:1.20px;width:25.90px;height:13.60px;line-height:13.60px;color:#383838;font-weight:normal;text-align:center;font-size:7.5px;padding-top:0px;letter-spacing:-0.45px;padding-right:0.5px">1</div>
<div class="t" style="left:0.00px;top:15.80px;width:25.90px;height:13.60px;line-height:13.60px;color:#383838;font-weight:normal;text-align:center;font-size:7.5px;padding-top:0px;letter-spacing:-0.45px;padding-right:0.5px">2</div>
<div class="t" style="left:0.00px;top:31.74px;width:25.90px;height:13.50px;line-height:13.50px;color:#383838;font-weight:normal;text-align:center;font-size:7.5px;padding-top:0px;letter-spacing:-0.45px;padding-right:0.5px">183</div>
<div class="t" style="left:0.00px;top:45.24px;width:25.90px;height:13.50px;line-height:13.50px;color:#383838;font-weight:normal;text-align:center;font-size:7.5px;padding-top:0px;letter-spacing:-0.45px;padding-right:0.5px">184</div>
<div class="t" style="left:0.00px;top:58.74px;width:25.90px;height:13.50px;line-height:13.50px;color:#383838;font-weight:normal;text-align:center;font-size:7.5px;padding-top:0px;letter-spacing:-0.45px;padding-right:0.5px">185</div>
<div class="t" style="left:0.00px;top:72.24px;width:25.90px;height:13.50px;line-height:13.50px;color:#383838;font-weight:normal;text-align:center;font-size:7.5px;padding-top:0px;letter-spacing:-0.45px;padding-right:0.5px">186</div>
<div class="t" style="left:0.00px;top:85.74px;width:25.90px;height:13.50px;line-height:13.50px;color:#383838;font-weight:normal;text-align:center;font-size:7.5px;padding-top:0px;letter-spacing:-0.45px;padding-right:0.5px">187</div>
<div class="t" style="left:0.00px;top:99.24px;width:25.90px;height:13.50px;line-height:13.50px;color:#383838;font-weight:normal;text-align:center;font-size:7.5px;padding-top:0px;letter-spacing:-0.45px;padding-right:0.5px">188</div>
<div class="t" style="left:0.00px;top:112.74px;width:25.90px;height:13.50px;line-height:13.50px;color:#383838;font-weight:normal;text-align:center;font-size:7.5px;padding-top:0px;letter-spacing:-0.45px;padding-right:0.5px">189</div>
<div class="t" style="left:0.00px;top:126.24px;width:25.90px;height:13.50px;line-height:13.50px;color:#383838;font-weight:normal;text-align:center;font-size:7.5px;padding-top:0px;letter-spacing:-0.45px;padding-right:0.5px">190</div>
<div class="t" style="left:0.00px;top:139.74px;width:25.90px;height:13.50px;line-height:13.50px;color:#383838;font-weight:normal;text-align:center;font-size:7.5px;padding-top:0px;letter-spacing:-0.45px;padding-right:0.5px">191</div>
<div class="t" style="left:0.00px;top:153.24px;width:25.90px;height:13.50px;line-height:13.50px;color:#383838;font-weight:normal;text-align:center;font-size:7.5px;padding-top:0px;letter-spacing:-0.45px;padding-right:0.5px">192</div>
<div class="t" style="left:0.00px;top:166.74px;width:25.90px;height:13.50px;line-height:13.50px;color:#383838;font-weight:normal;text-align:center;font-size:7.5px;padding-top:0px;letter-spacing:-0.45px;padding-right:0.5px">193</div>
<div class="t" style="left:0.00px;top:180.24px;width:25.90px;height:13.50px;line-height:13.50px;color:#383838;font-weight:normal;text-align:center;font-size:7.5px;padding-top:0px;letter-spacing:-0.45px;padding-right:0.5px">194</div>
<div class="t" style="left:0.00px;top:193.74px;width:25.90px;height:13.50px;line-height:13.50px;color:#383838;font-weight:normal;text-align:center;font-size:7.5px;padding-top:0px;letter-spacing:-0.45px;padding-right:0.5px">195</div>
<div class="t" style="left:0.00px;top:207.24px;width:25.90px;height:13.50px;line-height:13.50px;color:#383838;font-weight:normal;text-align:center;font-size:7.5px;padding-top:0px;letter-spacing:-0.45px;padding-right:0.5px">196</div>
<div class="t" style="left:0.00px;top:220.74px;width:25.90px;height:13.50px;line-height:13.50px;color:#383838;font-weight:normal;text-align:center;font-size:7.5px;padding-top:0px;letter-spacing:-0.45px;padding-right:0.5px">197</div>
<div class="t" style="left:0.00px;top:234.24px;width:25.90px;height:13.50px;line-height:13.50px;color:#383838;font-weight:normal;text-align:center;font-size:7.5px;padding-top:0px;letter-spacing:-0.45px;padding-right:0.5px">198</div>
<div class="t" style="left:0.00px;top:247.74px;width:25.90px;height:13.50px;line-height:13.50px;color:#383838;font-weight:normal;text-align:center;font-size:7.5px;padding-top:0px;letter-spacing:-0.45px;padding-right:0.5px">199</div>
<div class="t" style="left:0.00px;top:261.24px;width:25.90px;height:13.50px;line-height:13.50px;color:#383838;font-weight:normal;text-align:center;font-size:7.5px;padding-top:0px;letter-spacing:-0.45px;padding-right:0.5px">200</div>
<div class="t" style="left:0.00px;top:274.74px;width:25.90px;height:13.50px;line-height:13.50px;color:#383838;font-weight:normal;text-align:center;font-size:7.5px;padding-top:0px;letter-spacing:-0.45px;padding-right:0.5px">201</div>
<div class="t" style="left:0.00px;top:288.24px;width:25.90px;height:13.50px;line-height:13.50px;color:#383838;font-weight:normal;text-align:center;font-size:7.5px;padding-top:0px;letter-spacing:-0.45px;padding-right:0.5px">202</div>
<div class="t" style="left:0.00px;top:301.74px;width:25.90px;height:13.50px;line-height:13.50px;color:#383838;font-weight:normal;text-align:center;font-size:7.5px;padding-top:0px;letter-spacing:-0.45px;padding-right:0.5px">203</div>
<div class="t" style="left:0.00px;top:315.24px;width:25.90px;height:13.50px;line-height:13.50px;color:#383838;font-weight:normal;text-align:center;font-size:7.5px;padding-top:0px;letter-spacing:-0.45px;padding-right:0.5px">204</div>
<div class="t" style="left:0.00px;top:328.74px;width:25.90px;height:13.50px;line-height:13.50px;color:#383838;font-weight:normal;text-align:center;font-size:7.5px;padding-top:0px;letter-spacing:-0.45px;padding-right:0.5px">205</div>
<div class="t" style="left:0.00px;top:342.24px;width:25.90px;height:13.50px;line-height:13.50px;color:#383838;font-weight:normal;text-align:center;font-size:7.5px;padding-top:0px;letter-spacing:-0.45px;padding-right:0.5px">206</div>
<div class="t" style="left:0.00px;top:355.74px;width:25.90px;height:13.50px;line-height:13.50px;color:#383838;font-weight:normal;text-align:center;font-size:7.5px;padding-top:0px;letter-spacing:-0.45px;padding-right:0.5px">207</div>
<div class="t" style="left:0.00px;top:369.24px;width:25.90px;height:13.50px;line-height:13.50px;color:#383838;font-weight:normal;text-align:center;font-size:7.5px;padding-top:0px;letter-spacing:-0.45px;padding-right:0.5px">208</div>
<div class="t" style="left:0.00px;top:382.74px;width:25.90px;height:13.50px;line-height:13.50px;color:#383838;font-weight:normal;text-align:center;font-size:7.5px;padding-top:0px;letter-spacing:-0.45px;padding-right:0.5px">209</div>
<div class="t" style="left:0.00px;top:396.24px;width:25.90px;height:13.50px;line-height:13.50px;color:#383838;font-weight:normal;text-align:center;font-size:7.5px;padding-top:0px;letter-spacing:-0.45px;padding-right:0.5px">210</div>
<div class="t" style="left:0.00px;top:409.74px;width:25.90px;height:13.50px;line-height:13.50px;color:#383838;font-weight:normal;text-align:center;font-size:7.5px;padding-top:0px;letter-spacing:-0.45px;padding-right:0.5px">211</div>
<div class="t" style="left:0.00px;top:423.24px;width:25.90px;height:13.50px;line-height:13.50px;color:#383838;font-weight:normal;text-align:center;font-size:7.5px;padding-top:0px;letter-spacing:-0.45px;padding-right:0.5px">212</div>
<div class="t" style="left:0.00px;top:436.74px;width:25.90px;height:13.50px;line-height:13.50px;color:#383838;font-weight:normal;text-align:center;font-size:7.5px;padding-top:0px;letter-spacing:-0.45px;padding-right:0.5px">213</div>
<div style="left:0.00px;top:30.00px;width:1080.00px;height:2.00px;background:#d0d0d0"></div>
<div style="left:0.00px;top:29.00px;width:25.90px;height:1.00px;background:#e0e0e0"></div>
<div style="left:48.00px;top:1.00px;width:20.00px;height:1.00px;background:#8ab0f0"></div>
<div style="left:30px;top:438px;width:1015px;height:4px;background:#c8c8c8;border-radius:2px"></div>
<div style="left:0.00px;top:445.00px;width:1080.00px;height:2.00px;background:#fff"></div>
<div style="left:1073px;top:103px;width:5px;height:33px;background:#d4d4d4;border-radius:1.5px"></div>
<div style="left:0.00px;top:161.00px;width:2.00px;height:25.00px;background:#40adc0"></div>
<div style="left:1049px;top:389px;width:20px;height:40px;background:#fff;box-shadow:0 0 2px rgba(0,0,0,0.08);border-radius:2px"></div>
<div class="t" style="left:1049px;top:412px;width:20px;height:12px;line-height:12px;color:#888;font-weight:normal;font-size:9px;text-align:center;padding:0">···</div>
<svg style="position:absolute;left:1053px;top:394px" width="12" height="11" viewBox="0 0 12 11"><path d="M4 1 L1 3 L2 5 L3 4.5 L3 10 L9 10 L9 4.5 L10 5 L11 3 L8 1 Q6 3 4 1 Z" fill="none" stroke="#8a88a8" stroke-width="0.9"/></svg>
</body></html>
